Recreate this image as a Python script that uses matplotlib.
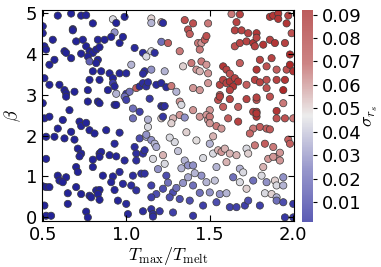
import matplotlib
matplotlib.use("Agg")
import matplotlib.pyplot as plt
from matplotlib.colors import LinearSegmentedColormap

plt.rcParams['mathtext.fontset'] = 'cm'

# (T_max/T_melt, beta, sigma_rs), band by band in beta
t_ratio = [
    # beta 4.5 - 5.0
    0.50, 0.50, 0.59, 0.67, 0.73, 0.76, 0.68, 0.68, 0.80, 0.92, 0.93, 0.94, 0.99,
    1.15, 1.15, 1.21, 1.22, 1.35, 1.37, 1.38, 1.40, 1.49, 1.63, 1.68, 1.66, 1.65,
    1.69, 1.73, 1.78, 1.86, 1.88, 1.91, 1.91, 1.97, 1.96, 1.99,
    # beta 4.0 - 4.5
    0.51, 0.52, 0.56, 0.63, 0.64, 0.70, 0.74, 0.76, 0.78, 0.80, 0.82, 0.84, 0.83,
    0.87, 0.91, 0.96, 0.98, 1.05, 1.10, 1.12, 1.15, 1.17, 1.21, 1.25, 1.32, 1.43,
    1.45, 1.47, 1.48, 1.44, 1.65, 1.68, 1.72, 1.76, 1.77, 1.78, 1.82, 1.86, 1.89,
    1.95, 1.98,
    # beta 3.5 - 4.0
    0.54, 0.57, 0.67, 0.73, 0.77, 0.78, 0.83, 0.82, 0.80, 0.85, 0.90, 0.96, 1.00,
    1.03, 1.11, 1.10, 1.15, 1.23, 1.34, 1.39, 1.42, 1.44, 1.45, 1.48, 1.49, 1.58,
    1.60, 1.62, 1.68, 1.78, 1.80, 1.84, 1.87, 1.90, 1.96, 1.98, 2.00,
    # beta 3.0 - 3.5
    0.51, 0.54, 0.60, 0.63, 0.64, 0.69, 0.77, 0.78, 0.84, 0.89, 0.92, 0.92, 0.93,
    0.94, 1.00, 1.02, 1.06, 1.08, 1.10, 1.12, 1.13, 1.18, 1.21, 1.24, 1.27, 1.30,
    1.40, 1.44, 1.49, 1.56, 1.58, 1.60, 1.62, 1.64, 1.65, 1.67, 1.62, 1.56, 1.72,
    1.77, 1.80, 1.84, 1.90, 1.95, 1.94, 1.84,
    # beta 2.5 - 3.0
    0.50, 0.64, 0.66, 0.77, 0.83, 0.84, 0.93, 0.94, 0.99, 1.00, 1.04, 1.21, 1.22,
    1.23, 1.32, 1.33, 1.40, 1.50, 1.55, 1.56, 1.62, 1.67, 1.72, 1.78, 1.78, 1.86,
    1.94, 1.90, 1.76, 1.78,
    # beta 2.0 - 2.5
    0.51, 0.54, 0.62, 0.59, 0.67, 0.72, 0.73, 0.76, 0.78, 0.81, 0.88, 0.96, 1.04,
    1.13, 1.13, 1.21, 1.22, 1.28, 1.32, 1.35, 1.44, 1.48, 1.49, 1.50, 1.50, 1.54,
    1.57, 1.61, 1.67, 1.78, 1.78, 1.76, 1.80, 1.84, 1.90, 1.95, 2.00,
    # beta 1.5 - 2.0
    0.52, 0.57, 0.63, 0.69, 0.71, 0.73, 0.84, 0.85, 0.90, 0.93, 1.05, 1.06, 1.10,
    1.11, 1.08, 1.12, 1.15, 1.17, 1.29, 1.50, 1.52, 1.55, 1.57, 1.59, 1.62, 1.66,
    1.72, 1.73, 1.77, 1.83, 1.88, 1.97, 1.98, 1.90,
    # beta 1.0 - 1.5
    0.52, 0.72, 0.70, 0.71, 0.80, 0.84, 0.94, 0.99, 1.06, 1.16, 1.22, 1.23, 1.35,
    1.37, 1.40, 1.54, 1.68, 1.82, 1.85, 1.88, 1.92, 0.59, 0.64, 0.80, 0.86, 0.92,
    0.96, 1.04, 1.09, 1.11, 1.24,
    # beta 0.5 - 1.0
    0.50, 0.52, 0.54, 0.60, 0.62, 0.65, 0.70, 0.73, 0.78, 0.79, 0.82, 0.84, 0.83,
    0.91, 0.93, 0.98, 1.03, 1.06, 1.15, 1.18, 1.22, 1.28, 1.34, 1.40, 1.45, 1.48,
    1.50, 1.56, 1.60, 1.64, 1.68, 1.72, 1.76, 1.84, 1.89, 1.90, 1.94, 1.94, 1.83,
    1.87, 1.90,
    # beta 0.0 - 0.5
    0.51, 0.52, 0.55, 0.65, 0.76, 0.77, 0.84, 0.95, 1.00, 1.01, 1.10, 1.15, 1.16,
    1.16, 1.20, 1.28, 1.15, 1.26, 1.32, 1.38, 1.40, 1.46, 1.54, 1.62, 1.66, 1.71,
    1.73, 1.80, 1.90, 1.94, 1.95, 2.00, 2.00,
    # extra points in the middle band
    1.12, 1.18, 1.26, 1.31, 1.36, 1.42, 1.46, 1.52, 1.58, 1.25, 1.30, 1.19, 1.37,
    1.44, 1.08, 1.14, 1.27, 1.33, 1.41, 1.53, 1.60, 1.70, 1.74, 1.81, 1.86, 1.92,
]
beta = [
    4.67, 4.50, 4.93, 4.98, 4.93, 4.94, 4.60, 4.57, 4.74, 4.84, 4.52, 4.75, 4.90,
    4.86, 4.75, 4.77, 4.75, 4.82, 4.59, 4.48, 4.74, 4.74, 4.97, 4.96, 4.77, 4.57,
    4.57, 4.50, 4.50, 4.90, 4.93, 4.98, 4.85, 4.93, 4.74, 4.50,
    4.18, 4.10, 4.34, 4.06, 4.02, 4.30, 4.34, 4.18, 4.06, 4.02, 4.10, 4.16, 4.34,
    4.34, 4.41, 4.26, 4.41, 4.14, 4.02, 3.93, 4.06, 4.02, 4.29, 4.26, 4.06, 4.26,
    4.26, 4.34, 4.43, 4.10, 4.18, 4.26, 4.30, 4.26, 4.18, 4.39, 4.22, 4.34, 4.26,
    4.26, 3.98,
    3.73, 3.85, 3.89, 4.00, 3.93, 3.81, 3.85, 3.77, 3.57, 3.57, 3.52, 3.52, 3.52,
    3.73, 3.57, 3.51, 3.61, 3.57, 3.69, 3.77, 3.61, 3.57, 3.81, 3.73, 3.52, 3.69,
    3.61, 3.51, 3.77, 3.61, 3.85, 3.69, 3.89, 3.61, 3.61, 3.73, 3.57,
    3.40, 3.24, 3.24, 3.11, 3.03, 3.07, 3.11, 3.36, 3.36, 3.11, 3.40, 3.28, 3.20,
    3.02, 3.02, 3.07, 3.16, 3.20, 3.28, 3.20, 3.30, 3.24, 3.28, 3.18, 3.21, 3.07,
    3.16, 3.11, 3.28, 3.24, 3.36, 3.28, 3.32, 3.20, 3.40, 3.32, 3.11, 2.99, 3.24,
    3.36, 3.30, 3.36, 3.36, 3.36, 3.11, 3.16,
    2.79, 2.95, 2.62, 2.83, 2.83, 2.79, 2.75, 2.75, 2.95, 2.87, 2.66, 2.72, 2.70,
    2.72, 2.83, 2.75, 2.62, 2.62, 2.87, 2.95, 2.89, 2.70, 2.89, 2.87, 2.93, 2.95,
    2.79, 2.60, 2.58, 2.58,
    2.42, 2.46, 2.38, 2.17, 2.09, 2.34, 2.23, 2.31, 2.13, 2.05, 2.13, 2.07, 2.42,
    2.21, 2.39, 2.42, 2.46, 2.42, 2.50, 2.44, 2.46, 2.50, 2.38, 2.46, 2.30, 2.23,
    2.17, 2.42, 2.34, 2.46, 2.54, 2.17, 2.21, 2.17, 2.42, 2.42, 2.42,
    1.97, 1.97, 1.93, 1.90, 1.68, 1.56, 1.56, 1.60, 1.52, 1.80, 1.72, 1.56, 1.56,
    1.64, 1.93, 1.97, 1.89, 1.80, 1.84, 1.80, 1.56, 1.64, 1.60, 1.68, 1.56, 1.52,
    1.68, 1.56, 1.76, 1.80, 1.72, 1.90, 1.80, 1.48,
    1.43, 1.49, 1.23, 1.11, 1.41, 1.48, 1.49, 1.39, 1.39, 1.43, 1.52, 1.31, 1.39,
    1.27, 1.27, 1.23, 1.19, 1.23, 1.43, 1.48, 1.39, 1.02, 0.98, 1.23, 1.02, 1.00,
    1.11, 1.02, 1.07, 1.07, 1.02,
    0.76, 0.74, 0.74, 0.90, 0.86, 0.59, 0.74, 0.57, 0.53, 0.49, 0.66, 0.67, 0.57,
    0.86, 0.67, 0.82, 0.78, 0.66, 0.78, 0.57, 0.70, 0.61, 0.84, 0.78, 1.02, 0.86,
    0.61, 0.57, 0.59, 0.98, 0.86, 0.70, 0.90, 0.86, 0.90, 0.78, 0.98, 0.78, 0.59,
    0.57, 0.49,
    0.29, 0.04, 0.04, 0.33, 0.14, 0.00, 0.43, 0.41, 0.33, 0.08, 0.15, 0.20, 0.08,
    0.02, 0.15, 0.12, 0.49, 0.49, 0.45, 0.41, 0.04, 0.29, 0.37, 0.25, 0.25, 0.29,
    0.41, 0.29, 0.41, 0.37, 0.00, 0.33, 0.00,
    2.02, 1.72, 1.95, 1.62, 2.08, 1.88, 1.45, 1.98, 2.70, 0.85, 0.72, 1.18, 0.98,
    0.60, 2.58, 2.90, 2.30, 1.20, 1.08, 0.90, 1.35, 1.10, 2.05, 1.02, 2.15, 1.58,
]
sigma_rs = [
    0.005, 0.005, 0.004, 0.005, 0.004, 0.005, 0.004, 0.005, 0.005, 0.045, 0.035, 0.005, 0.006,
    0.050, 0.040, 0.055, 0.010, 0.075, 0.075, 0.070, 0.075, 0.065, 0.065, 0.080, 0.080, 0.080,
    0.080, 0.080, 0.085, 0.085, 0.085, 0.085, 0.085, 0.080, 0.085, 0.075,
    0.005, 0.004, 0.005, 0.004, 0.005, 0.005, 0.006, 0.005, 0.004, 0.005, 0.005, 0.005, 0.006,
    0.005, 0.006, 0.005, 0.006, 0.008, 0.010, 0.045, 0.045, 0.010, 0.030, 0.070, 0.065, 0.065,
    0.060, 0.070, 0.075, 0.065, 0.075, 0.080, 0.080, 0.085, 0.080, 0.080, 0.085, 0.080, 0.085,
    0.080, 0.090,
    0.005, 0.004, 0.005, 0.005, 0.004, 0.028, 0.005, 0.005, 0.005, 0.005, 0.006, 0.006, 0.008,
    0.040, 0.010, 0.010, 0.035, 0.040, 0.050, 0.065, 0.060, 0.055, 0.065, 0.060, 0.060, 0.085,
    0.080, 0.075, 0.070, 0.085, 0.080, 0.075, 0.080, 0.070, 0.075, 0.090, 0.085,
    0.005, 0.005, 0.004, 0.005, 0.005, 0.004, 0.005, 0.005, 0.005, 0.005, 0.006, 0.020, 0.006,
    0.040, 0.015, 0.030, 0.070, 0.008, 0.010, 0.010, 0.010, 0.008, 0.008, 0.009, 0.065, 0.040,
    0.060, 0.060, 0.060, 0.080, 0.080, 0.080, 0.085, 0.085, 0.080, 0.085, 0.080, 0.070, 0.070,
    0.080, 0.080, 0.075, 0.080, 0.085, 0.090, 0.075,
    0.005, 0.005, 0.004, 0.005, 0.005, 0.005, 0.006, 0.005, 0.030, 0.020, 0.030, 0.008, 0.008,
    0.010, 0.060, 0.045, 0.060, 0.060, 0.075, 0.080, 0.080, 0.070, 0.080, 0.075, 0.080, 0.075,
    0.065, 0.085, 0.080, 0.080,
    0.005, 0.005, 0.004, 0.005, 0.005, 0.004, 0.005, 0.005, 0.004, 0.005, 0.006, 0.008, 0.030,
    0.045, 0.040, 0.050, 0.015, 0.055, 0.060, 0.035, 0.060, 0.060, 0.060, 0.065, 0.060, 0.065,
    0.060, 0.070, 0.080, 0.085, 0.085, 0.065, 0.070, 0.070, 0.075, 0.075, 0.065,
    0.005, 0.004, 0.005, 0.005, 0.004, 0.005, 0.005, 0.006, 0.005, 0.008, 0.010, 0.010, 0.012,
    0.012, 0.025, 0.040, 0.035, 0.040, 0.045, 0.040, 0.045, 0.055, 0.060, 0.055, 0.055, 0.055,
    0.045, 0.050, 0.065, 0.070, 0.065, 0.070, 0.070, 0.060,
    0.005, 0.005, 0.004, 0.005, 0.005, 0.005, 0.006, 0.008, 0.010, 0.045, 0.055, 0.045, 0.040,
    0.035, 0.035, 0.040, 0.040, 0.055, 0.060, 0.060, 0.060, 0.004, 0.005, 0.005, 0.005, 0.006,
    0.008, 0.010, 0.012, 0.012, 0.025,
    0.005, 0.004, 0.005, 0.005, 0.004, 0.005, 0.005, 0.004, 0.005, 0.005, 0.005, 0.004, 0.005,
    0.006, 0.006, 0.008, 0.010, 0.012, 0.020, 0.025, 0.025, 0.025, 0.035, 0.030, 0.035, 0.040,
    0.035, 0.035, 0.040, 0.030, 0.045, 0.050, 0.030, 0.035, 0.050, 0.045, 0.035, 0.040, 0.045,
    0.050, 0.040,
    0.005, 0.005, 0.004, 0.005, 0.005, 0.005, 0.005, 0.006, 0.008, 0.008, 0.010, 0.012, 0.012,
    0.012, 0.015, 0.020, 0.020, 0.025, 0.025, 0.025, 0.015, 0.020, 0.025, 0.020, 0.020, 0.020,
    0.025, 0.020, 0.030, 0.025, 0.015, 0.015, 0.015,
    0.035, 0.038, 0.045, 0.042, 0.050, 0.048, 0.045, 0.055, 0.070, 0.030, 0.030, 0.035, 0.038,
    0.030, 0.020, 0.015, 0.050, 0.040, 0.040, 0.042, 0.055, 0.045, 0.068, 0.045, 0.072, 0.060,
]

vmin, vmax = 0.0015, 0.092
pt_cmap = LinearSegmentedColormap.from_list(
    "pts", ["#1e1e94", "#4848ac", "#e4e4e4", "#c46060", "#aa2424"])
bar_cmap = LinearSegmentedColormap.from_list(
    "bar", ["#5c5cb4", "#9898cc", "#ececec", "#cc8484", "#bc5c5c"])

fig = plt.figure(figsize=(3.81, 2.67), dpi=100)
ax = fig.add_axes([0.110, 0.172, 0.662, 0.791])
cax = fig.add_axes([0.793, 0.169, 0.029, 0.794])

ax.scatter(t_ratio, beta, c=sigma_rs, cmap=pt_cmap, vmin=vmin, vmax=vmax,
           s=27, edgecolors="#3a3a3a", linewidths=0.5)
ax.set_xlim(0.495, 2.005)
ax.set_ylim(-0.09, 5.07)
ax.set_xticks([0.5, 1.0, 1.5, 2.0])
ax.set_yticks([0, 1, 2, 3, 4, 5])
ax.tick_params(direction="in", top=True, right=True, labelsize=13, length=4)
ax.set_xlabel(r"$T_{\rm max}/T_{\rm melt}$", fontsize=13, labelpad=1)
ax.set_ylabel(r"$\beta$", fontsize=13, labelpad=2)

sm = plt.cm.ScalarMappable(cmap=bar_cmap, norm=plt.Normalize(vmin, vmax))
cb = fig.colorbar(sm, cax=cax)
cb.set_ticks([0.01, 0.02, 0.03, 0.04, 0.05, 0.06, 0.07, 0.08, 0.09])
cb.ax.tick_params(labelsize=13, length=3)
cb.outline.set_visible(False)
cb.set_label(r"$\sigma_{r_s}$", fontsize=13, labelpad=0)

fig.savefig("out.png", dpi=100)
